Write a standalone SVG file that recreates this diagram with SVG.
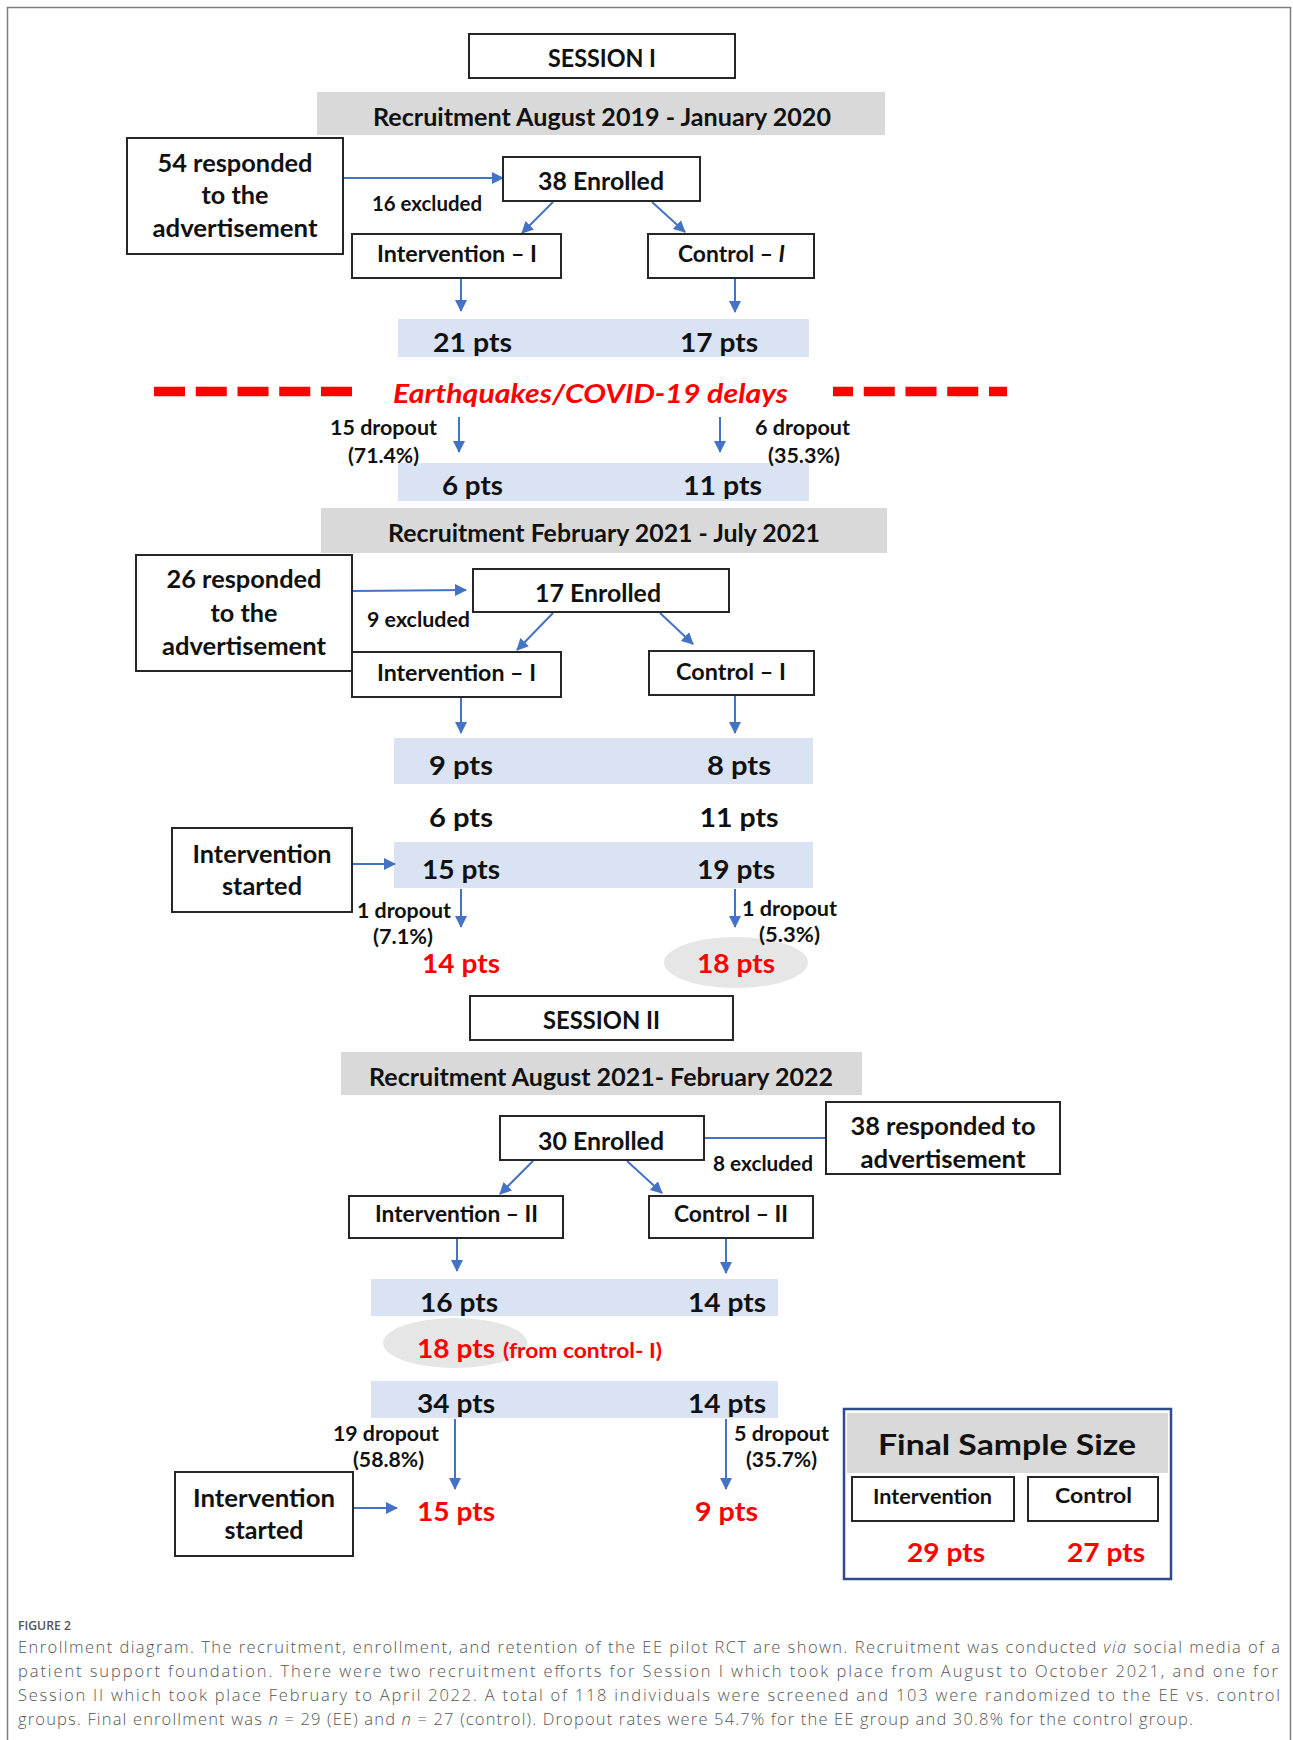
<svg xmlns="http://www.w3.org/2000/svg" width="1293" height="1740" viewBox="0 0 1293 1740">
<style>
.bx{fill:#fff;stroke:#262626;stroke-width:2}
.gb{fill:#D9D9D9}
.bb{fill:#DAE3F3}
.el{fill:#E7E6E6}
.t{font-family:Lato,'Liberation Sans',sans-serif;font-weight:700;fill:#111}
.c{text-anchor:middle}
.s24{font-size:24.5px}
.s22{font-size:22.5px}
.s20{font-size:20.5px}
.s26{font-size:26.5px}
.red{fill:#FF0000}
.cn{stroke:#4472C4;stroke-width:2;fill:none}
.cap{font-family:'Open Sans',Lato,sans-serif;font-weight:300;font-size:16.5px;fill:#555}
</style>
<defs>
<marker id="ah" viewBox="0 0 12 12" refX="11" refY="6" markerWidth="12" markerHeight="12" markerUnits="userSpaceOnUse" orient="auto">
<path d="M0,0 L12,6 L0,12 z" fill="#4472C4"/>
</marker>
</defs>
<rect width="1293" height="1740" fill="#fff"/>
<path d="M7.5,1740 V7.5 H1290.5 V1740" fill="none" stroke="#7f7f7f" stroke-width="1.5"/>

<g id="bands">
<rect class="gb" x="317" y="92" width="568" height="43"/>
<rect class="bb" x="398" y="319" width="411" height="38"/>
<rect class="bb" x="398" y="463" width="411" height="38"/>
<rect class="gb" x="321" y="508" width="566" height="45"/>
<rect class="bb" x="394" y="738" width="419" height="46"/>
<rect class="bb" x="394" y="842" width="419" height="46"/>
<ellipse class="el" cx="736" cy="962.5" rx="72" ry="25.5"/>
<rect class="gb" x="341" y="1052" width="521" height="43"/>
<rect class="bb" x="371" y="1279" width="407" height="37"/>
<ellipse class="el" cx="455" cy="1343" rx="72" ry="25"/>
<rect class="bb" x="371" y="1381" width="407" height="37"/>
</g>

<g id="connectors">
<line class="cn" x1="343" y1="178" x2="503" y2="178" marker-end="url(#ah)"/>
<line class="cn" x1="553" y1="202" x2="522" y2="233" marker-end="url(#ah)"/>
<line class="cn" x1="652" y1="202" x2="685" y2="232" marker-end="url(#ah)"/>
<line class="cn" x1="461" y1="279" x2="461" y2="311" marker-end="url(#ah)"/>
<line class="cn" x1="735" y1="279" x2="735" y2="312" marker-end="url(#ah)"/>
<line class="cn" x1="459" y1="417" x2="459" y2="452" marker-end="url(#ah)"/>
<line class="cn" x1="720" y1="417" x2="720" y2="452" marker-end="url(#ah)"/>
<line class="cn" x1="352" y1="591" x2="466" y2="590" marker-end="url(#ah)"/>
<line class="cn" x1="553" y1="613" x2="517" y2="650" marker-end="url(#ah)"/>
<line class="cn" x1="660" y1="613" x2="693" y2="644" marker-end="url(#ah)"/>
<line class="cn" x1="461" y1="698" x2="461" y2="733" marker-end="url(#ah)"/>
<line class="cn" x1="735" y1="696" x2="735" y2="733" marker-end="url(#ah)"/>
<line class="cn" x1="353" y1="864" x2="395" y2="864" marker-end="url(#ah)"/>
<line class="cn" x1="461" y1="889" x2="461" y2="927" marker-end="url(#ah)"/>
<line class="cn" x1="735" y1="889" x2="735" y2="927" marker-end="url(#ah)"/>
<line class="cn" x1="704" y1="1138" x2="826" y2="1138"/>
<line class="cn" x1="533" y1="1161" x2="500" y2="1194" marker-end="url(#ah)"/>
<line class="cn" x1="627" y1="1161" x2="662" y2="1193" marker-end="url(#ah)"/>
<line class="cn" x1="457" y1="1239" x2="457" y2="1271" marker-end="url(#ah)"/>
<line class="cn" x1="726" y1="1239" x2="726" y2="1273" marker-end="url(#ah)"/>
<line class="cn" x1="455" y1="1419" x2="455" y2="1489" marker-end="url(#ah)"/>
<line class="cn" x1="726" y1="1419" x2="726" y2="1489" marker-end="url(#ah)"/>
<line class="cn" x1="353" y1="1508" x2="397" y2="1508" marker-end="url(#ah)"/>
</g>

<g id="session1">
<rect class="bx" x="469" y="34" width="266" height="44"/>
<text class="t c s24" x="602" y="67" textLength="108" lengthAdjust="spacingAndGlyphs">SESSION I</text>
</g>
<g id="recruit1">
<text class="t c s24" x="602" y="126" textLength="458" lengthAdjust="spacingAndGlyphs">Recruitment August 2019 - January 2020</text>
</g>
<g id="responded1">
<rect class="bx" x="127" y="138" width="216" height="116"/>
<text class="t c s24" x="235" y="172" textLength="155" lengthAdjust="spacingAndGlyphs">54 responded</text>
<text class="t c s24" x="235" y="204" textLength="67" lengthAdjust="spacingAndGlyphs">to the</text>
<text class="t c s24" x="235" y="237" textLength="165" lengthAdjust="spacingAndGlyphs">advertisement</text>
</g>
<g id="excluded1">
<text class="t s20" x="372" y="211" textLength="110" lengthAdjust="spacingAndGlyphs">16 excluded</text>
</g>
<g id="enrolled1">
<rect class="bx" x="503" y="157" width="197" height="44"/>
<text class="t c s24" x="601" y="190" textLength="126" lengthAdjust="spacingAndGlyphs">38 Enrolled</text>
</g>
<g id="intervention1">
<rect class="bx" x="352" y="234" width="209" height="44"/>
<text class="t c s22" x="457" y="262" textLength="160" lengthAdjust="spacingAndGlyphs">Intervention – I</text>
</g>
<g id="control1">
<rect class="bx" x="648" y="234" width="166" height="44"/>
<text class="t c s22" x="731.5" y="262" textLength="107" lengthAdjust="spacingAndGlyphs">Control – <tspan font-style="italic">I</tspan></text>
</g>
<g id="pts1">
<text class="t c s26" x="472.5" y="352" textLength="79" lengthAdjust="spacingAndGlyphs">21 pts</text>
<text class="t c s26" x="719" y="352" textLength="78" lengthAdjust="spacingAndGlyphs">17 pts</text>
</g>
<g id="delays">
<line x1="154" y1="391.5" x2="352" y2="391.5" stroke="#FF0000" stroke-width="9.5" stroke-dasharray="31 10.75"/>
<line x1="833" y1="391.5" x2="1007" y2="391.5" stroke="#FF0000" stroke-width="9.5" stroke-dasharray="31 10.75" stroke-dashoffset="11"/>
<text class="t s26 red" x="393" y="403" font-style="italic" textLength="395" lengthAdjust="spacingAndGlyphs">Earthquakes/COVID-19 delays</text>
</g>
<g id="pts2">
<text class="t c s26" x="472.5" y="495" textLength="61" lengthAdjust="spacingAndGlyphs">6 pts</text>
<text class="t c s26" x="722.5" y="495" textLength="79" lengthAdjust="spacingAndGlyphs">11 pts</text>
</g>
<g id="dropout1">
<text class="t c s20" x="383.5" y="435" textLength="107" lengthAdjust="spacingAndGlyphs">15 dropout</text>
<text class="t c s20" x="383.5" y="463" textLength="71" lengthAdjust="spacingAndGlyphs">(71.4%)</text>
<text class="t c s20" x="802.5" y="435" textLength="95" lengthAdjust="spacingAndGlyphs">6 dropout</text>
<text class="t c s20" x="804" y="463" textLength="72" lengthAdjust="spacingAndGlyphs">(35.3%)</text>
</g>

<g id="recruit2">
<text class="t c s24" x="604" y="542" textLength="432" lengthAdjust="spacingAndGlyphs">Recruitment February 2021 - July 2021</text>
</g>
<g id="responded2">
<rect class="bx" x="136" y="555" width="216" height="116"/>
<text class="t c s24" x="244" y="588" textLength="155" lengthAdjust="spacingAndGlyphs">26 responded</text>
<text class="t c s24" x="244" y="622" textLength="67" lengthAdjust="spacingAndGlyphs">to the</text>
<text class="t c s24" x="244" y="655" textLength="164" lengthAdjust="spacingAndGlyphs">advertisement</text>
</g>
<g id="excluded2">
<text class="t s20" x="367" y="627" textLength="103" lengthAdjust="spacingAndGlyphs">9 excluded</text>
</g>
<g id="enrolled2">
<rect class="bx" x="473" y="569" width="256" height="43"/>
<text class="t c s24" x="598" y="602" textLength="126" lengthAdjust="spacingAndGlyphs">17 Enrolled</text>
</g>
<g id="intervention2">
<rect class="bx" x="352" y="652" width="209" height="45"/>
<text class="t c s22" x="456.5" y="681" textLength="159" lengthAdjust="spacingAndGlyphs">Intervention – I</text>
</g>
<g id="control2">
<rect class="bx" x="649" y="651" width="165" height="44"/>
<text class="t c s22" x="731" y="680" textLength="110" lengthAdjust="spacingAndGlyphs">Control – I</text>
</g>
<g id="pts3">
<text class="t c s26" x="461" y="775" textLength="64" lengthAdjust="spacingAndGlyphs">9 pts</text>
<text class="t c s26" x="739" y="775" textLength="64" lengthAdjust="spacingAndGlyphs">8 pts</text>
</g>
<g id="pts4">
<text class="t c s26" x="461" y="827" textLength="64" lengthAdjust="spacingAndGlyphs">6 pts</text>
<text class="t c s26" x="739" y="827" textLength="79" lengthAdjust="spacingAndGlyphs">11 pts</text>
</g>
<g id="pts5">
<text class="t c s26" x="461" y="879" textLength="78" lengthAdjust="spacingAndGlyphs">15 pts</text>
<text class="t c s26" x="736" y="879" textLength="78" lengthAdjust="spacingAndGlyphs">19 pts</text>
</g>
<g id="started1">
<rect class="bx" x="172" y="828" width="180" height="84"/>
<text class="t c s24" x="262" y="863" textLength="139" lengthAdjust="spacingAndGlyphs">Intervention</text>
<text class="t c s24" x="262" y="895" textLength="80" lengthAdjust="spacingAndGlyphs">started</text>
</g>
<g id="dropout2">
<text class="t c s20" x="404" y="918" textLength="94" lengthAdjust="spacingAndGlyphs">1 dropout</text>
<text class="t c s20" x="403" y="944" textLength="60" lengthAdjust="spacingAndGlyphs">(7.1%)</text>
<text class="t c s20" x="789.5" y="916" textLength="95" lengthAdjust="spacingAndGlyphs">1 dropout</text>
<text class="t c s20" x="789.5" y="942" textLength="61" lengthAdjust="spacingAndGlyphs">(5.3%)</text>
</g>
<g id="result1">
<text class="t c s26 red" x="461" y="973" textLength="78" lengthAdjust="spacingAndGlyphs">14 pts</text>
<text class="t c s26 red" x="736" y="973" textLength="78" lengthAdjust="spacingAndGlyphs">18 pts</text>
</g>

<g id="session2">
<rect class="bx" x="470" y="996" width="263" height="44"/>
<text class="t c s24" x="601.5" y="1029" textLength="117" lengthAdjust="spacingAndGlyphs">SESSION II</text>
</g>
<g id="recruit3">
<text class="t c s24" x="601" y="1086" textLength="464" lengthAdjust="spacingAndGlyphs">Recruitment August 2021- February 2022</text>
</g>
<g id="enrolled3">
<rect class="bx" x="500" y="1116" width="204" height="44"/>
<text class="t c s24" x="601" y="1150" textLength="126" lengthAdjust="spacingAndGlyphs">30 Enrolled</text>
</g>
<g id="responded3">
<rect class="bx" x="826" y="1102" width="234" height="72"/>
<text class="t c s24" x="943" y="1135" textLength="185" lengthAdjust="spacingAndGlyphs">38 responded to</text>
<text class="t c s24" x="943" y="1168" textLength="165" lengthAdjust="spacingAndGlyphs">advertisement</text>
</g>
<g id="excluded3">
<text class="t s20" x="713" y="1171" textLength="100" lengthAdjust="spacingAndGlyphs">8 excluded</text>
</g>
<g id="intervention3">
<rect class="bx" x="349" y="1196" width="214" height="42"/>
<text class="t c s22" x="456.5" y="1222" textLength="163" lengthAdjust="spacingAndGlyphs">Intervention – II</text>
</g>
<g id="control3">
<rect class="bx" x="649" y="1196" width="164" height="42"/>
<text class="t c s22" x="731" y="1222" textLength="114" lengthAdjust="spacingAndGlyphs">Control – II</text>
</g>
<g id="pts6">
<text class="t c s26" x="459" y="1312" textLength="78" lengthAdjust="spacingAndGlyphs">16 pts</text>
<text class="t c s26" x="727" y="1312" textLength="78" lengthAdjust="spacingAndGlyphs">14 pts</text>
</g>
<g id="fromcontrol">
<text class="t s26 red" x="417" y="1358" textLength="78" lengthAdjust="spacingAndGlyphs">18 pts</text>
<text class="t red" x="503" y="1358" font-size="21.5" textLength="159" lengthAdjust="spacingAndGlyphs">(from control- I)</text>
</g>
<g id="pts7">
<text class="t c s26" x="456" y="1413" textLength="78" lengthAdjust="spacingAndGlyphs">34 pts</text>
<text class="t c s26" x="727" y="1413" textLength="78" lengthAdjust="spacingAndGlyphs">14 pts</text>
</g>
<g id="dropout3">
<text class="t c s20" x="386" y="1441" textLength="106" lengthAdjust="spacingAndGlyphs">19 dropout</text>
<text class="t c s20" x="388.5" y="1467" textLength="71" lengthAdjust="spacingAndGlyphs">(58.8%)</text>
<text class="t c s20" x="781.5" y="1441" textLength="95" lengthAdjust="spacingAndGlyphs">5 dropout</text>
<text class="t c s20" x="781.5" y="1467" textLength="71" lengthAdjust="spacingAndGlyphs">(35.7%)</text>
</g>
<g id="started2">
<rect class="bx" x="175" y="1472" width="178" height="84"/>
<text class="t c s24" x="264" y="1507" textLength="142" lengthAdjust="spacingAndGlyphs">Intervention</text>
<text class="t c s24" x="264" y="1539" textLength="79" lengthAdjust="spacingAndGlyphs">started</text>
</g>
<g id="result2">
<text class="t c s26 red" x="456" y="1521" textLength="78" lengthAdjust="spacingAndGlyphs">15 pts</text>
<text class="t c s26 red" x="726.5" y="1521" textLength="63" lengthAdjust="spacingAndGlyphs">9 pts</text>
</g>
<g id="final">
<rect x="844" y="1409" width="327" height="170" fill="#fff" stroke="#2F4B8C" stroke-width="2.5"/>
<rect class="gb" x="847" y="1413" width="321" height="60"/>
<text class="t c" x="1007" y="1455" font-size="29" textLength="258" lengthAdjust="spacingAndGlyphs">Final Sample Size</text>
<rect class="bx" x="852" y="1477" width="162" height="44"/>
<text class="t c s20" x="932.5" y="1504" textLength="119" lengthAdjust="spacingAndGlyphs">Intervention</text>
<rect class="bx" x="1028" y="1477" width="130" height="44"/>
<text class="t c s20" x="1093.5" y="1503" textLength="77" lengthAdjust="spacingAndGlyphs">Control</text>
<text class="t c s26 red" x="946" y="1562" textLength="78" lengthAdjust="spacingAndGlyphs">29 pts</text>
<text class="t c s26 red" x="1106" y="1562" textLength="78" lengthAdjust="spacingAndGlyphs">27 pts</text>
</g>

<g id="caption">
<text x="18" y="1630" font-family="'Open Sans',Lato,sans-serif" font-weight="600" font-size="13" fill="#555" textLength="53" lengthAdjust="spacingAndGlyphs">FIGURE 2</text>
<text class="cap" x="18" y="1653" textLength="1262" lengthAdjust="spacing">Enrollment diagram. The recruitment, enrollment, and retention of the EE pilot RCT are shown. Recruitment was conducted <tspan font-style="italic">via</tspan> social media of a</text>
<text class="cap" x="18" y="1677" textLength="1260" lengthAdjust="spacing">patient support foundation. There were two recruitment efforts for Session I which took place from August to October 2021, and one for</text>
<text class="cap" x="18" y="1701" textLength="1262" lengthAdjust="spacing">Session II which took place February to April 2022. A total of 118 individuals were screened and 103 were randomized to the EE vs. control</text>
<text class="cap" x="18" y="1725" textLength="1175" lengthAdjust="spacing">groups. Final enrollment was <tspan font-style="italic">n</tspan> = 29 (EE) and <tspan font-style="italic">n</tspan> = 27 (control). Dropout rates were 54.7% for the EE group and 30.8% for the control group.</text>
</g>
</svg>
